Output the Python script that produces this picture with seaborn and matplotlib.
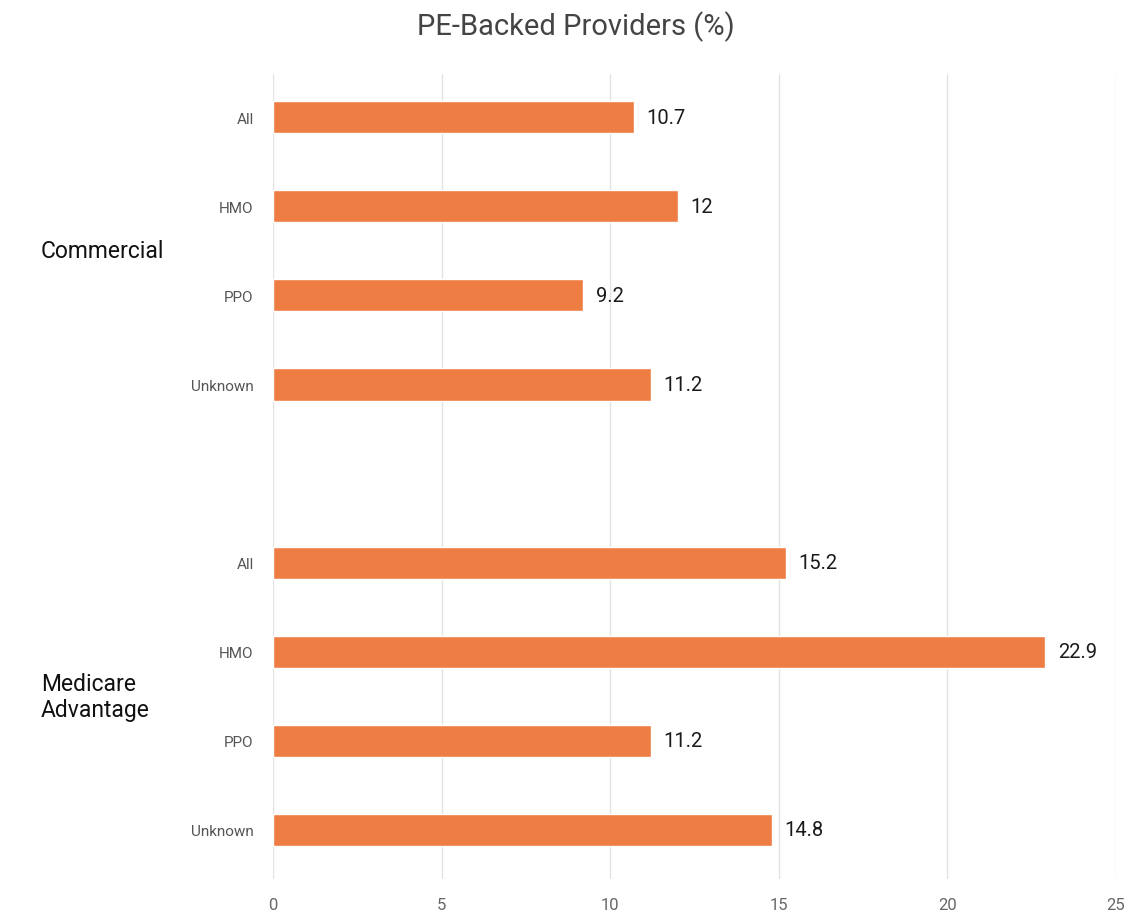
import matplotlib
matplotlib.use("Agg")
import matplotlib.pyplot as plt
import matplotlib.transforms as mtransforms
import seaborn as sns
import pandas as pd

# values
groups = ["Commercial", "Medicare\nAdvantage"]
plans = ["All", "HMO", "PPO", "Unknown"]
commercial = [10.7, 12, 9.2, 11.2]
medicare = [15.2, 22.9, 11.2, 14.8]
value_text = ["10.7", "12", "9.2", "11.2", "15.2", "22.9", "11.2", "14.8"]

# one empty slot between the two groups
pos = [0, 1, 2, 3, 5, 6, 7, 8]
df = pd.DataFrame({"pos": pos,
                   "value": commercial + medicare,
                   "plan": plans + plans})

sns.set_style("white")
plt.rcParams["font.family"] = ["Roboto", "DejaVu Sans"]

fig = plt.figure(figsize=(11.33, 9.2), dpi=100)
ax = fig.add_axes([0.241, 0.0435, 0.744, 0.8745])

sns.barplot(data=df, x="value", y="pos", orient="h", native_scale=True,
            color="#EE7D43", saturation=1, width=0.36, ax=ax)

ax.set_xlim(0, 25)
ax.set_ylim(8.55, -0.48)
ax.set_xticks([0, 5, 10, 15, 20, 25])
ax.set_yticks(pos)
ax.set_yticklabels(plans + plans)
ax.set_xlabel("")
ax.set_ylabel("")
ax.grid(axis="x", color="#E3E3E3", linewidth=1)
ax.set_axisbelow(True)
for s in ax.spines.values():
    s.set_visible(False)
ax.tick_params(axis="x", length=0, pad=13, labelsize=12, labelcolor="#666666")
ax.tick_params(axis="y", length=0, pad=14, labelsize=11, labelcolor="#555555")

for p, v, t in zip(pos, df["value"], value_text):
    ax.annotate(t, (v, p), xytext=(9, 0), textcoords="offset points",
                va="center", ha="left", fontsize=14.5, color="#1a1a1a")

trans = mtransforms.blended_transform_factory(fig.transFigure, ax.transData)
ax.text(0.036, 1.5, groups[0], transform=trans, ha="left", va="center",
        fontsize=16.5, color="#111111")
ax.text(0.036, 6.5, groups[1], transform=trans, ha="left", va="center",
        fontsize=16.5, color="#111111", linespacing=1.15)

fig.suptitle("PE-Backed Providers (%)", x=0.508, y=0.988, fontsize=21,
             color="#444444")

fig.savefig("out.png", dpi=100)
